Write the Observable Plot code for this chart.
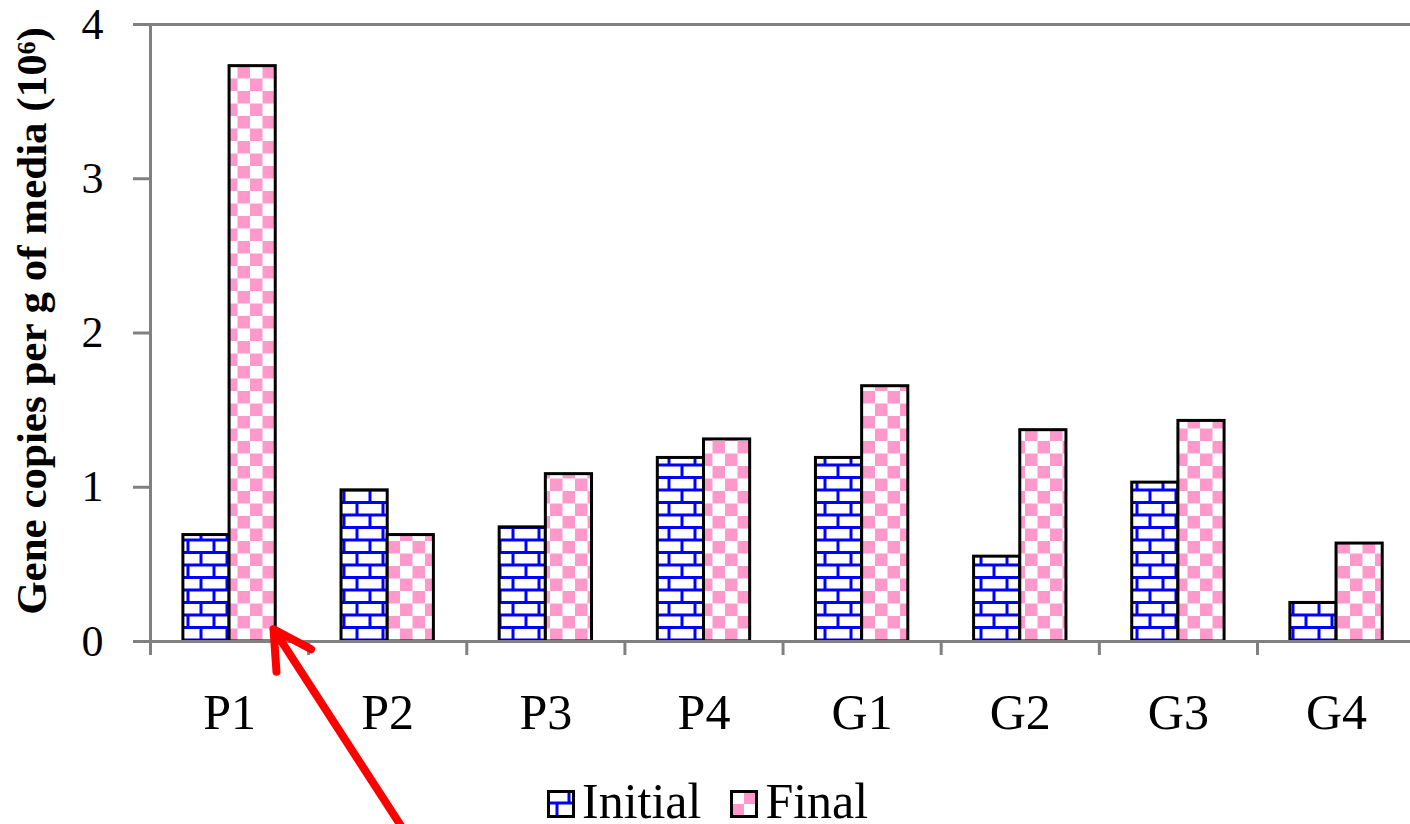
<!DOCTYPE html>
<html><head><meta charset="utf-8">
<script src="https://cdn.jsdelivr.net/npm/d3@7"></script>
<script src="https://cdn.jsdelivr.net/npm/@observablehq/plot@0.6"></script>
<style>
html,body{margin:0;padding:0;background:#fff;}
#wrap{position:relative;width:1410px;height:824px;overflow:hidden;font-family:"Liberation Serif","Times New Roman",serif;}
#legend{position:absolute;left:547px;top:776px;font-size:50px;line-height:50px;white-space:nowrap;color:#000;}
#legend .sw{display:inline-block;width:28px;height:28px;vertical-align:baseline;margin-right:7px;}
#legend .item{display:inline-block;}
</style></head><body><div id="wrap"><div id="chart"></div><div id="legend"></div></div>
<script>
const categories = ["P1","P2","P3","P4","G1","G2","G3","G4"];
const initialValues = [0.69,0.98,0.74,1.19,1.19,0.55,1.03,0.25];
const finalValues = [3.73,0.69,1.085,1.31,1.655,1.37,1.43,0.635];
const seriesNames = ["Initial","Final"];
const yTicks = [0,1,2,3,4];
const yTitle = "Gene copies per g of media (10\u2076)";
// red annotation arrow, in data units (tail -> tip at the base of the P1 Final bar)
const arrowNote = [{x1: 1.644, y1: -1.29, x2: 0.778, y2: 0.08}];

const gray = "#808080";
const barW = 0.292;
const rows = categories.flatMap((c, i) => [
  {cat: c, i, series: seriesNames[0], value: initialValues[i]},
  {cat: c, i, series: seriesNames[1], value: finalValues[i]}
]);
const fills = {Initial: "url(#brick)", Final: "url(#check)"};

const chart = Plot.plot({
  width: 1410, height: 824,
  marginLeft: 150, marginRight: 0, marginTop: 24, marginBottom: 183,
  style: {fontFamily: "Liberation Serif, Times New Roman, serif", background: "white", color: "black"},
  x: {type: "linear", domain: [0, 1260 / 158.14]},
  y: {domain: [0, 4]},
  marks: [
    Plot.rect(rows.filter(d => d.series === "Initial"), {
      x1: d => d.i + 0.5 - barW, x2: d => d.i + 0.5, y1: 0, y2: "value",
      fill: fills.Initial, stroke: "black", strokeWidth: 3
    }),
    Plot.rect(rows.filter(d => d.series === "Final"), {
      x1: d => d.i + 0.5, x2: d => d.i + 0.5 + barW, y1: 0, y2: "value",
      fill: fills.Final, stroke: "black", strokeWidth: 3
    }),
    Plot.ruleX([0], {y1: 0, y2: 4, stroke: gray, strokeWidth: 3}),
    Plot.ruleY([0, 4], {stroke: gray, strokeWidth: 3}),
    Plot.axisY({ticks: yTicks, tickSize: 17, tickPadding: 30, stroke: gray, strokeWidth: 3,
      fontSize: 44, label: null, tickFormat: d => String(d)}),
    Plot.axisX({ticks: d3.range(0, 8), tickSize: 14, stroke: gray, strokeWidth: 3,
      tickFormat: () => "", label: null}),
    Plot.axisX({ticks: d3.range(8).map(i => i + 0.5), tickSize: 0, tickPadding: 52,
      fontSize: 50, label: null, tickFormat: d => categories[Math.floor(d)]}),
    Plot.text([yTitle], {text: d => d, frameAnchor: "left", textAnchor: "middle", rotate: -90,
      dx: -118, dy: -12, fontSize: 43, fontWeight: "bold", fill: "black"}),
    Plot.arrow(arrowNote, {x1: "x1", y1: "y1", x2: "x2", y2: "y2", stroke: "red",
      strokeWidth: 8, headLength: 8, headAngle: 58, strokeLinecap: "round", strokeLinejoin: "round"})
  ]
});

// SVG patterns for the bar fills
const ns = "http://www.w3.org/2000/svg";
const defs = document.createElementNS(ns, "defs");
defs.innerHTML = `
  <pattern id="brick" patternUnits="userSpaceOnUse" x="0" y="640" width="26" height="25">
    <rect width="26" height="25" fill="white"/>
    <g stroke="#0000FF" stroke-width="3">
      <line x1="0" y1="0" x2="26" y2="0"/>
      <line x1="0" y1="12.5" x2="26" y2="12.5"/>
      <line x1="0" y1="25" x2="26" y2="25"/>
      <line x1="6" y1="0" x2="6" y2="12.5"/>
      <line x1="19" y1="12.5" x2="19" y2="25"/>
    </g>
  </pattern>
  <pattern id="check" patternUnits="userSpaceOnUse" x="0" y="641" width="25" height="25">
    <rect width="25" height="25" fill="white"/>
    <rect x="0" y="12.5" width="12.5" height="12.5" fill="#FF99CC"/>
    <rect x="12.5" y="0" width="12.5" height="12.5" fill="#FF99CC"/>
  </pattern>`;
chart.insertBefore(defs, chart.firstChild);
document.getElementById("chart").appendChild(chart);

// legend
const swatches = {
  Initial: `<svg class="sw" viewBox="0 0 28 28"><rect x="1.5" y="1.5" width="25" height="25" fill="white"/>
    <g stroke="#0000FF" stroke-width="3"><line x1="2" y1="13" x2="26" y2="13"/><line x1="10" y1="13" x2="10" y2="26"/><line x1="22" y1="2" x2="22" y2="13"/></g>
    <rect x="1.5" y="1.5" width="25" height="25" fill="none" stroke="black" stroke-width="3"/></svg>`,
  Final: `<svg class="sw" viewBox="0 0 28 28"><rect x="1.5" y="1.5" width="25" height="25" fill="white"/>
    <rect x="3" y="14" width="11" height="11" fill="#FF99CC"/><rect x="14" y="3" width="11" height="11" fill="#FF99CC"/>
    <rect x="1.5" y="1.5" width="25" height="25" fill="none" stroke="black" stroke-width="3"/></svg>`
};
document.getElementById("legend").innerHTML = seriesNames.map((s, k) =>
  `<span class="item" style="margin-right:${k === 0 ? 29 : 0}px">${swatches[s]}${s}</span>`).join("");
</script>
</body></html>
